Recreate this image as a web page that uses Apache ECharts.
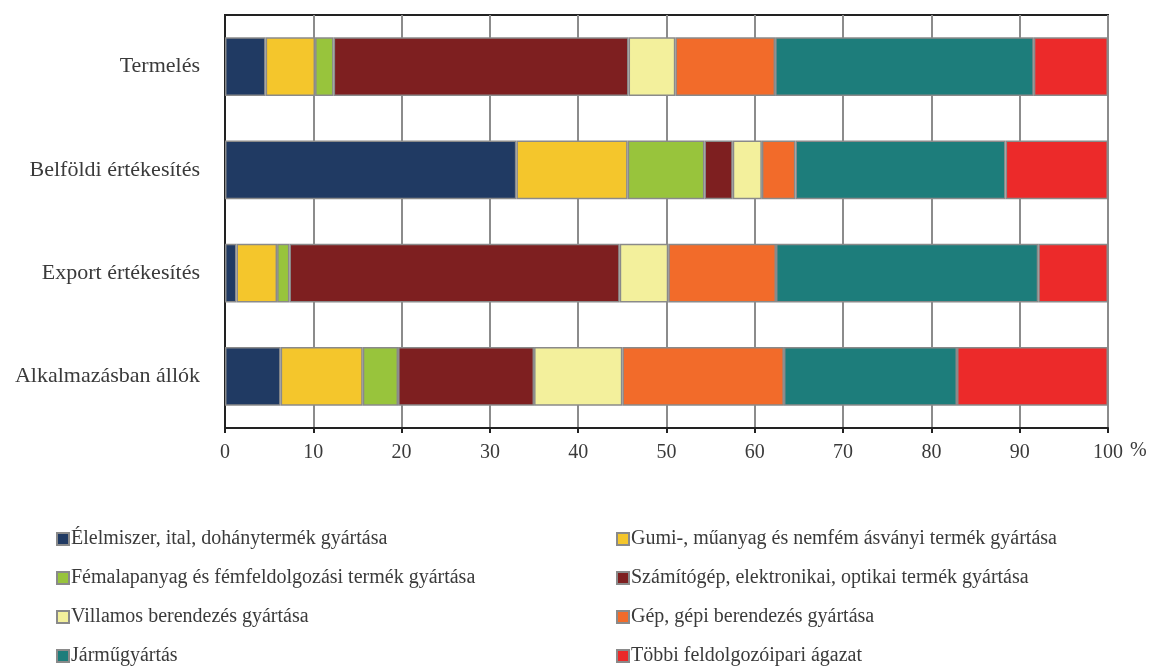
<!DOCTYPE html>
<html>
<head>
<meta charset="utf-8">
<script src="https://cdn.jsdelivr.net/npm/echarts@6/dist/echarts.min.js"></script>
<style>
html,body{margin:0;padding:0;background:#fff;}
#chart{width:1156px;height:666px;}
</style>
</head>
<body>
<div id="chart"></div>
<script>
var categories = ['Termelés', 'Belföldi értékesítés', 'Export értékesítés', 'Alkalmazásban állók'];
var xTicks = [0, 10, 20, 30, 40, 50, 60, 70, 80, 90, 100];

var seriesNames = [
  'Élelmiszer, ital, dohánytermék gyártása',
  'Gumi-, műanyag és nemfém ásványi termék gyártása',
  'Fémalapanyag és fémfeldolgozási termék gyártása',
  'Számítógép, elektronikai, optikai termék gyártása',
  'Villamos berendezés gyártása',
  'Gép, gépi berendezés gyártása',
  'Járműgyártás',
  'Többi feldolgozóipari ágazat'
];

var elelmiszer   = [4.6, 33.0, 1.3, 6.3];
var gumi         = [5.6, 12.6, 4.6, 9.3];
var femalapanyag = [2.1, 8.7, 1.4, 4.0];
var szamitogep   = [33.4, 3.2, 37.4, 15.4];
var villamos     = [5.3, 3.3, 5.5, 10.0];
var gep          = [11.3, 3.8, 12.2, 18.3];
var jarmu        = [29.3, 23.8, 29.7, 19.6];
var tobbi        = [8.4, 11.6, 7.9, 17.1];

var seriesValues = [elelmiszer, gumi, femalapanyag, szamitogep, villamos, gep, jarmu, tobbi];
var colors = ['#203A63', '#F4C62C', '#98C43C', '#7E1F20', '#F3F09C', '#F26B2A', '#1D7D7B', '#EC2A2A'];

var FONT = '"Liberation Serif", "DejaVu Serif", serif';
var TEXT = '#3a3a3a';

var chart = echarts.init(document.getElementById('chart'));

var series = seriesNames.map(function (name, i) {
  return {
    name: name,
    type: 'bar',
    stack: 'total',
    barWidth: '57%',
    data: seriesValues[i],
    itemStyle: { color: colors[i], borderColor: '#8a8a8a', borderWidth: 1.5 },
    emphasis: { disabled: true }
  };
});

var legendCommon = {
  orient: 'vertical',
  top: 524,
  height: 300,
  itemWidth: 12,
  itemHeight: 12,
  itemGap: 19,
  icon: 'rect',
  selectedMode: false,
  textStyle: { fontFamily: FONT, fontSize: 20, color: TEXT, padding: [0, 0, 0, -3] }
};

chart.setOption({
  animation: false,
  color: colors,
  grid: { left: 225, right: 48, top: 15, bottom: 238, show: true, borderColor: '#222', borderWidth: 2, backgroundColor: 'transparent' },
  xAxis: {
    type: 'value',
    min: 0,
    max: 100,
    interval: 10,
    name: '%',
    nameLocation: 'end',
    nameGap: 22,
    nameTextStyle: { fontFamily: FONT, fontSize: 20, color: TEXT, verticalAlign: 'top', padding: [13, 0, 0, 0] },
    axisLine: { show: true, lineStyle: { color: '#222', width: 2 } },
    axisTick: { show: true, length: 5, lineStyle: { color: '#222', width: 2 } },
    axisLabel: {
      margin: 15,
      fontFamily: FONT, fontSize: 20, color: TEXT,
      formatter: function (v) { return xTicks.indexOf(v) >= 0 ? String(v) : ''; }
    },
    splitLine: { show: true, lineStyle: { color: '#8c8c8c', width: 2 } }
  },
  yAxis: {
    type: 'category',
    inverse: true,
    data: categories,
    axisLine: { show: true, lineStyle: { color: '#222', width: 2 } },
    axisTick: { show: false },
    axisLabel: { margin: 25, fontFamily: FONT, fontSize: 22, color: TEXT },
    splitLine: { show: false }
  },
  legend: [
    Object.assign({}, legendCommon, { left: 51, data: [seriesNames[0], seriesNames[2], seriesNames[4], seriesNames[6]] }),
    Object.assign({}, legendCommon, { left: 611, data: [seriesNames[1], seriesNames[3], seriesNames[5], seriesNames[7]] })
  ],
  series: series
});
</script>
</body>
</html>
